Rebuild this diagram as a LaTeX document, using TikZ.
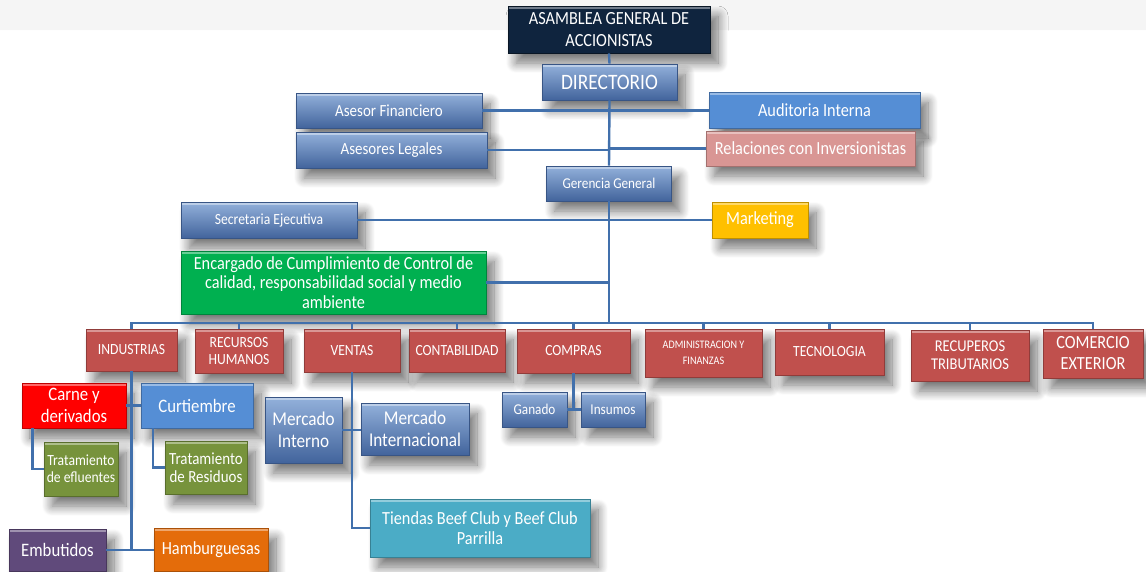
\documentclass[tikz,border=0pt]{standalone}
\usepackage{fontspec}
\setmainfont{Carlito}[FakeStretch=0.88]
\usetikzlibrary{shadows.blur}
\definecolor{navy}{HTML}{0F243E}
\definecolor{bgtop}{HTML}{93B1DB}
\definecolor{bgbot}{HTML}{42649C}
\definecolor{audit}{HTML}{558ED5}
\definecolor{pinkc}{HTML}{D99694}
\definecolor{yel}{HTML}{FFC000}
\definecolor{grn}{HTML}{00B050}
\definecolor{redb}{HTML}{C0504D}
\definecolor{redc}{HTML}{FF0000}
\definecolor{olive}{HTML}{77933C}
\definecolor{teal}{HTML}{4BACC6}
\definecolor{purp}{HTML}{604A7B}
\definecolor{oran}{HTML}{E46C0A}
\definecolor{conncol}{HTML}{4170AC}
\begin{document}
\begin{tikzpicture}[x=1pt,y=-1pt,
  box/.style={line width=0.7pt, text=white, align=center, inner sep=1pt,
    blur shadow={shadow xshift=8pt, shadow yshift=-10pt, shadow blur radius=10pt,
      shadow blur steps=12, shadow opacity=55},
    path picture={\draw[white, opacity=0.4, line width=1.3pt]
      ([yshift=-2pt]path picture bounding box.north west) --
      ([yshift=-2pt]path picture bounding box.north east);}},
  flatbox/.style={box, fill=#1, draw=#1!75!black},
  bluegrad/.style={box, top color=bgtop, bottom color=bgbot, draw=bgbot!85!black},
  navybox/.style={box, fill=navy, draw=navy!60!black},
  redbox/.style={flatbox=redb},
  sz/.style 2 args={minimum width=#1pt, minimum height=#2pt},
  f/.style 2 args={font=\fontsize{#1}{#2}\selectfont},
  conn/.style={draw=conncol, line width=2.4pt}]
\useasboundingbox (0,0) rectangle (1146,571);
\fill[black!4, rounded corners=14pt] (-20,-20) rectangle (1160,30);

% top chain
\node[navybox, sz={202}{47}, f={18.5}{22}] (asm) at (609,29.5) {ASAMBLEA GENERAL DE\\ACCIONISTAS};
\node[bluegrad, sz={135}{36}, f={22}{24}] (dir) at (609.5,82) {DIRECTORIO};
\node[bluegrad, sz={186}{35}, f={17}{18}] (af) at (389,110.5) {Asesor Financiero};
\node[flatbox=audit, sz={211}{36}, f={18.5}{20}] (ai) at (814.5,110) {Auditoria Interna};
\node[bluegrad, sz={191}{36}, f={17}{18}] (al) at (391.5,150) {Asesores Legales};
\node[flatbox=pinkc, sz={209}{35}, f={18.5}{20}] (ri) at (810.5,148.5) {Relaciones con Inversionistas};
\node[bluegrad, sz={125}{35}, f={15}{18}] (gg) at (609,183.5) {Gerencia General};
\node[bluegrad, sz={176}{36}, f={15.5}{18}] (se) at (269,220) {Secretaria Ejecutiva};
\node[flatbox=yel, sz={96}{36}, f={18.5}{20}] (mk) at (760,220) {Marketing};
\node[flatbox=grn, sz={305}{63}, f={18.5}{19.5}] (en) at (333.5,282.5) {Encargado de Cumplimiento de Control de\\calidad, responsabilidad social y medio\\ambiente};

% departments
\node[redbox, sz={91}{42}, f={15.5}{17}] (ind) at (131.5,350) {INDUSTRIAS};
\node[redbox, sz={88}{44}, f={15.5}{17}] (rh) at (239,351) {RECURSOS\\HUMANOS};
\node[redbox, sz={96}{43}, f={15.5}{17}] (ve) at (352,350.5) {VENTAS};
\node[redbox, sz={96}{43}, f={15.5}{17}] (co) at (457,350.5) {CONTABILIDAD};
\node[redbox, sz={113}{44}, f={15.5}{17}] (cp) at (573.5,351) {COMPRAS};
\node[redbox, sz={117}{48}, f={11.5}{16}] (adm) at (703.5,353) {ADMINISTRACION Y\\FINANZAS};
\node[redbox, sz={109}{46}, f={15.5}{17}] (tec) at (829.5,352) {TECNOLOGIA};
\node[redbox, sz={118}{51}, f={16.5}{18}] (rec) at (970,355.5) {RECUPEROS\\TRIBUTARIOS};
\node[redbox, sz={100}{49}, f={18.5}{21}] (ce) at (1093,353.5) {COMERCIO\\EXTERIOR};

% sub units
\node[flatbox=redc, sz={104}{45}, f={19}{21.5}] (car) at (74,405.5) {Carne y\\derivados};
\node[flatbox=audit, sz={112}{45}, f={19}{21}] (cur) at (197,405.5) {Curtiembre};
\node[flatbox=olive, sz={74}{54}, f={15.5}{16.7}] (tef) at (81,469) {Tratamiento\\de efluentes};
\node[flatbox=olive, sz={82}{53}, f={17}{18}] (tre) at (206,467.5) {Tratamiento\\de Residuos};
\node[bluegrad, sz={77}{66}, f={19.5}{22}] (mi) at (303.5,430) {Mercado\\Interno};
\node[bluegrad, sz={108}{52}, f={19.5}{21.7}] (mint) at (415,429) {Mercado\\Internacional};
\node[flatbox=teal, sz={220}{58}, f={18.5}{19.5}] (tie) at (480,528) {Tiendas Beef Club y Beef Club\\Parrilla};
\node[bluegrad, sz={65}{35}, f={15}{17}] (ga) at (534.5,409.5) {Ganado};
\node[bluegrad, sz={64}{35}, f={15}{17}] (ins) at (613,409.5) {Insumos};
\node[flatbox=purp, sz={97}{42}, f={19}{21}] (emb) at (57.5,550) {Embutidos};
\node[flatbox=oran, sz={114}{43}, f={18.5}{21}] (ham) at (211,549.5) {Hamburguesas};

% connectors
\coordinate (bus) at (609,323);
\draw[conn] (asm.south) -- (dir.north);
\draw[conn] (dir.south) -- (gg.north);
\draw[conn] (gg.south) -- (bus);
\draw[conn] (af.east) -- (af.east -| ai.west);
\draw[conn] (al.east) -- (al.east -| dir.south);
\draw[conn] (ri.west) -- (ri.west -| dir.south);
\draw[conn] (se.east) -- (se.east -| mk.west);
\draw[conn] (en.east) -- (en.east -| dir.south);
\draw[conn] (ind.north) -- (ind.north |- bus) -- (ce.north |- bus) -- (ce.north);
\foreach \n in {rh,ve,co,cp,adm,tec,rec}{\draw[conn] (\n.north) -- (\n.north |- bus);}
\draw[conn] (ind.south) -- (ind.south |- emb.east);
\draw[conn] (emb.east) -- (emb.east -| ham.west);
\draw[conn] (car.east) -- (car.east -| cur.west);
\draw[conn] ([xshift=11pt]car.south west) |- (tef.west);
\draw[conn] ([xshift=12.5pt]cur.south west) |- (tre.west);
\draw[conn] (ve.south) |- (tie.west);
\draw[conn] (mi.east) -- (mi.east -| mint.west);
\draw[conn] (cp.south) -- (cp.south |- ga.east);
\draw[conn] (ga.east) -- (ins.west);
\end{tikzpicture}
\end{document}
